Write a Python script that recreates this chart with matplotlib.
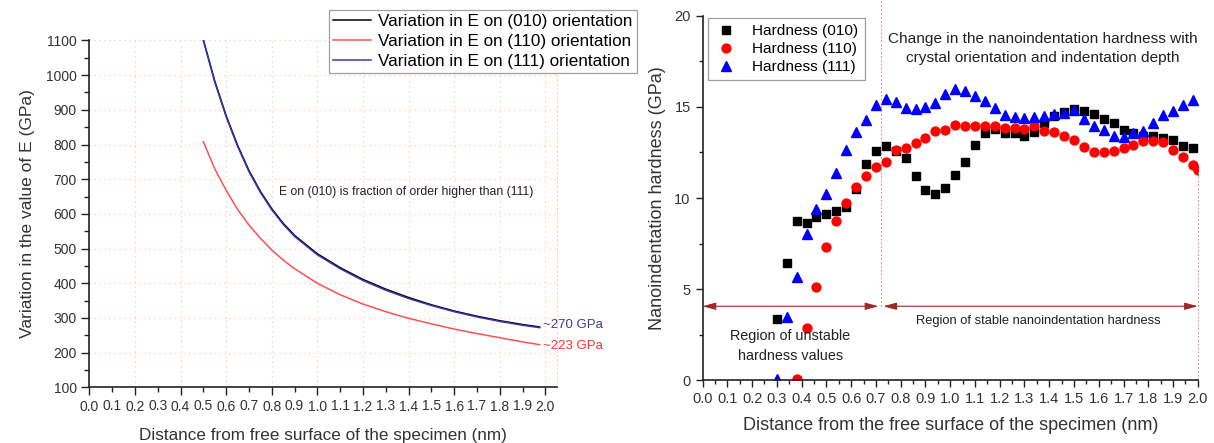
import matplotlib.pyplot as plt
from matplotlib.ticker import MultipleLocator, FormatStrFormatter

plt.rcParams['font.family'] = ['Liberation Sans', 'DejaVu Sans']

# ---- left panel: Young's modulus vs distance ----
e_depth = [0.50, 0.55, 0.60, 0.65, 0.70, 0.75, 0.80, 0.85, 0.90, 1.00, 1.10,
           1.20, 1.30, 1.40, 1.50, 1.60, 1.70, 1.80, 1.90, 1.975]
e_010 = [1102, 983, 883, 798, 725, 665, 615, 573, 538, 485, 445,
         411, 383, 359, 338, 320, 305, 292, 281, 274]
e_111 = [1100, 980, 880, 795, 722, 662, 612, 570, 535, 482, 442,
         408, 380, 356, 336, 318, 303, 290, 279, 272]
e_110 = [808, 730, 668, 613, 568, 530, 496, 467, 442, 400, 367,
         340, 318, 299, 283, 268, 255, 243, 231, 223]

# ---- right panel: nanoindentation hardness ----
h_depth_010 = [0.30, 0.34, 0.38, 0.42, 0.46, 0.50, 0.54, 0.58, 0.62, 0.66, 0.70,
               0.74, 0.78, 0.82, 0.86, 0.90, 0.94, 0.98, 1.02, 1.06, 1.10, 1.14,
               1.18, 1.22, 1.26, 1.30, 1.34, 1.38, 1.42, 1.46, 1.50, 1.54, 1.58,
               1.62, 1.66, 1.70, 1.74, 1.78, 1.82, 1.86, 1.90, 1.94, 1.98]
h_010 = [3.36, 6.46, 8.76, 8.65, 8.98, 9.13, 9.31, 9.53, 10.5, 11.86, 12.59,
         12.87, 12.6, 12.2, 11.21, 10.42, 10.25, 10.57, 11.25, 11.96, 12.93, 13.55,
         13.77, 13.59, 13.59, 13.40, 13.64, 14.14, 14.5, 14.7, 14.87, 14.79, 14.59,
         14.34, 14.1, 13.73, 13.55, 13.4, 13.4, 13.31, 13.18, 12.86, 12.76]

h_depth_110 = [0.38, 0.42, 0.46, 0.50, 0.54, 0.58, 0.62, 0.66, 0.70, 0.74, 0.78,
               0.82, 0.86, 0.90, 0.94, 0.98, 1.02, 1.06, 1.10, 1.14, 1.18, 1.22,
               1.26, 1.30, 1.34, 1.38, 1.42, 1.46, 1.50, 1.54, 1.58, 1.62, 1.66,
               1.70, 1.74, 1.78, 1.82, 1.86, 1.90, 1.94, 1.98, 2.00]
h_110 = [0.08, 2.86, 5.14, 7.34, 8.76, 9.75, 10.6, 11.22, 11.72, 11.99, 12.61,
         12.73, 13.04, 13.28, 13.68, 13.73, 14.0, 13.95, 13.95, 13.95, 13.95, 13.83,
         13.85, 13.77, 13.95, 13.7, 13.64, 13.4, 13.18, 12.78, 12.55, 12.55, 12.58,
         12.76, 12.91, 13.15, 13.15, 13.09, 12.64, 12.24, 11.81, 11.54]

h_depth_111 = h_depth_010
h_111 = [0.08, 3.5, 5.66, 8.03, 9.4, 10.24, 11.36, 12.66, 13.64, 14.3, 15.1,
         15.42, 15.29, 14.92, 14.87, 14.98, 15.2, 15.71, 15.98, 15.89, 15.61, 15.34,
         14.92, 14.56, 14.42, 14.41, 14.46, 14.5, 14.59, 14.68, 14.83, 14.34, 13.95,
         13.73, 13.42, 13.33, 13.55, 13.7, 14.14, 14.56, 14.79, 15.1, 15.38]

stable_start = 0.72
arrow_level = 4.07

axis_col = '#222222'
text_col = '#333333'

fig = plt.figure(figsize=(12.14, 4.43), dpi=100)
ax1 = fig.add_axes([0.0736, 0.1257, 0.385, 0.783])
ax2 = fig.add_axes([0.5787, 0.1411, 0.408, 0.8235])

# ---------------- left panel ----------------
ax1.plot(e_depth, e_010, color='black', lw=1.1, label='Variation in E on (010) orientation')
ax1.plot(e_depth, e_110, color='#ff5050', lw=1.1, label='Variation in E on (110) orientation')
ax1.plot(e_depth, e_111, color='#3535b5', lw=1.1, label='Variation in E on (111) orientation')

ax1.set_xlim(0, 2.05)
ax1.set_ylim(100, 1100)
ax1.xaxis.set_major_locator(MultipleLocator(0.2))
ax1.xaxis.set_minor_locator(MultipleLocator(0.1))
ax1.xaxis.set_major_formatter(FormatStrFormatter('%.1f'))
ax1.xaxis.set_minor_formatter(FormatStrFormatter('%.1f'))
ax1.yaxis.set_major_locator(MultipleLocator(100))
ax1.yaxis.set_minor_locator(MultipleLocator(50))
ax1.grid(True, which='major', color='#f6cfbf', ls=(0, (1, 3)), lw=0.9)
ax1.set_axisbelow(True)
ax1.tick_params(which='major', direction='out', length=6, width=1, colors=axis_col,
                labelcolor=text_col, labelsize=10, pad=3)
ax1.tick_params(axis='x', which='minor', direction='out', length=3.5, width=1,
                colors=axis_col, labelcolor=text_col, labelsize=10, pad=4.8)
ax1.tick_params(axis='y', which='minor', direction='out', length=3.5, width=1, colors=axis_col)
ax1.spines['top'].set_visible(False)
ax1.spines['right'].set_color('#f6cfbf')
ax1.spines['right'].set_linestyle((0, (1, 3)))
for s in ('left', 'bottom'):
    ax1.spines[s].set_color(axis_col)
    ax1.spines[s].set_linewidth(1.2)
ax1.set_xlabel('Distance from free surface of the specimen (nm)', fontsize=12.3,
               color=text_col, labelpad=10)
ax1.set_ylabel('Variation in the value of E (GPa)', fontsize=12.5, color=text_col, labelpad=8)

ax1.text(0.83, 662, 'E on (010) is fraction of order higher than (111)', fontsize=8.8,
         color='#222222', ha='left', va='center')
ax1.text(1.99, 280, '~270 GPa', fontsize=9.5, color='#3a3aa0', ha='left', va='center')
ax1.text(1.99, 219, '~223 GPa', fontsize=9.5, color='#ff3030', ha='left', va='center')

leg1 = ax1.legend(loc='upper right', bbox_to_anchor=(637 / 1214, 1 - 10 / 443),
                  bbox_transform=fig.transFigure, fontsize=12.3, frameon=True,
                  fancybox=False, edgecolor='#888888', borderpad=0.25,
                  labelspacing=0.28, handlelength=2.2, handletextpad=0.45,
                  borderaxespad=0)
leg1.get_frame().set_linewidth(0.9)

# ---------------- right panel ----------------
ax2.plot(h_depth_010, h_010, ls='none', marker='s', ms=5.6, color='black',
         label='Hardness (010)')
ax2.plot(h_depth_110, h_110, ls='none', marker='o', ms=6.4, color='#ff0000',
         label='Hardness (110)')
ax2.plot(h_depth_111, h_111, ls='none', marker='^', ms=7, color='#0000ff',
         label='Hardness (111)')

ax2.set_xlim(0, 2.0)
ax2.set_ylim(0, 20)
ax2.xaxis.set_major_locator(MultipleLocator(0.1))
ax2.xaxis.set_minor_locator(MultipleLocator(0.05))
ax2.xaxis.set_major_formatter(FormatStrFormatter('%.1f'))
ax2.yaxis.set_major_locator(MultipleLocator(5))
ax2.yaxis.set_minor_locator(MultipleLocator(2.5))
ax2.tick_params(which='major', direction='out', length=5, width=1, colors=axis_col,
                labelcolor=text_col, labelsize=10.5, pad=3.5)
ax2.tick_params(which='minor', direction='out', length=3, width=1, colors=axis_col)
ax2.spines['top'].set_visible(False)
ax2.spines['right'].set_visible(False)
for s in ('left', 'bottom'):
    ax2.spines[s].set_color(axis_col)
    ax2.spines[s].set_linewidth(1.2)
ax2.set_xlabel('Distance from the free surface of the specimen (nm)', fontsize=13,
               color=text_col, labelpad=8)
ax2.set_ylabel('Nanoindentation hardness (GPa)', fontsize=13, color=text_col, labelpad=6)

# region markers
ax2.plot([stable_start, stable_start], [arrow_level, 20.9], color='#d98a8a', lw=0.8,
         ls=(0, (1.5, 2)), clip_on=False)
ax2.plot([2.0, 2.0], [0, h_110[-1]], color='#d98a8a', lw=0.8, ls=(0, (1.5, 2)),
         clip_on=False)
arrow_style = dict(arrowstyle='<|-|>,head_length=0.8,head_width=0.22',
                   color='#9a2a2a', lw=0.8, shrinkA=0, shrinkB=0)
ax2.annotate('', xy=(0.0, arrow_level), xytext=(stable_start - 0.01, arrow_level),
             arrowprops=arrow_style, annotation_clip=False)
ax2.annotate('', xy=(stable_start + 0.01, arrow_level), xytext=(2.0, arrow_level),
             arrowprops=arrow_style, annotation_clip=False)

ax2.text(1.375, 18.2, 'Change in the nanoindentation hardness with\ncrystal orientation and indentation depth',
         fontsize=11.1, color='#222222', ha='center', va='center', linespacing=1.4)
ax2.text(1.356, 3.26, 'Region of stable nanoindentation hardness', fontsize=9.3,
         color='#222222', ha='center', va='center')
ax2.text(0.355, 1.9, 'Region of unstable\nhardness values', fontsize=10.4,
         color='#222222', ha='center', va='center', linespacing=1.55)

leg2 = ax2.legend(loc='upper left', bbox_to_anchor=(707.7 / 1214, 1 - 18.3 / 443),
                  bbox_transform=fig.transFigure, fontsize=11.1, frameon=True,
                  fancybox=False, edgecolor='#888888', borderpad=0.4,
                  labelspacing=0.25, handlelength=1.6, handletextpad=0.9,
                  borderaxespad=0)
leg2.get_frame().set_linewidth(0.9)

fig.savefig('out.png', dpi=100)
